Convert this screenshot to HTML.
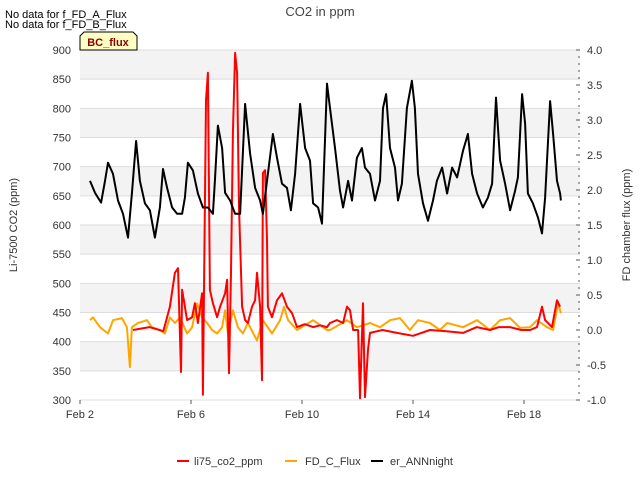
<!DOCTYPE html>
<html><head><meta charset="utf-8"><style>
body{margin:0;background:#fff;}
svg{font-family:"Liberation Sans","DejaVu Sans",sans-serif;}
</style></head><body>
<svg id="c" width="640" height="480" viewBox="0 0 640 480" xmlns="http://www.w3.org/2000/svg">
<text x="5" y="18" font-size="11" fill="#000">No data for f_FD_A_Flux</text>
<text x="5" y="28" font-size="11" fill="#000">No data for f_FD_B_Flux</text>
<text x="320" y="16" font-size="13" fill="#444" text-anchor="middle">CO2 in ppm</text>
<g id="plot"></g>
<path d="M84,32 L133,32 L137,36 L137,50 L80,50 L80,36 Z" fill="#ffffc4" stroke="#000" stroke-width="1"/>
<text x="108" y="46" font-size="11" font-weight="bold" fill="#8b0000" text-anchor="middle">BC_flux</text>
<text transform="translate(17,225) rotate(-90)" font-size="11" fill="#333" text-anchor="middle">Li-7500 CO2 (ppm)</text>
<text transform="translate(630,225) rotate(-90)" font-size="11" fill="#333" text-anchor="middle">FD chamber flux (ppm)</text>
<g>
<line x1="177" y1="461" x2="189" y2="461" stroke="#f00" stroke-width="2"/>
<text x="194" y="465" font-size="11" fill="#333">li75_co2_ppm</text>
<line x1="285" y1="461" x2="297" y2="461" stroke="orange" stroke-width="2"/>
<text x="305" y="465" font-size="11" fill="#333">FD_C_Flux</text>
<line x1="371" y1="461" x2="383" y2="461" stroke="#000" stroke-width="2"/>
<text x="390" y="465" font-size="11" fill="#333">er_ANNnight</text>
</g>
</svg>
<script>
const xTicks=[2,6,10,14,18];
const xTickLabels=["Feb 2","Feb 6","Feb 10","Feb 14","Feb 18"];
const leftTicks=[300,350,400,450,500,550,600,650,700,750,800,850,900];
const rightTicks=[-1.0,-0.5,0.0,0.5,1.0,1.5,2.0,2.5,3.0,3.5,4.0];
const blackT=[2.36,2.54,2.76,2.90,3.01,3.19,3.37,3.55,3.73,3.87,4.02,4.16,4.34,4.52,4.70,4.88,4.99,5.14,5.32,5.50,5.68,5.78,5.89,6.07,6.25,6.43,6.61,6.79,6.86,6.97,7.12,7.23,7.41,7.59,7.77,7.95,8.13,8.31,8.49,8.59,8.77,8.95,9.10,9.28,9.46,9.60,9.75,9.93,10.11,10.29,10.40,10.58,10.72,10.90,11.01,11.19,11.37,11.48,11.66,11.80,11.98,12.16,12.27,12.45,12.63,12.81,12.92,13.03,13.17,13.35,13.46,13.60,13.78,13.96,14.07,14.18,14.36,14.54,14.72,14.86,15.05,15.23,15.41,15.59,15.80,15.98,16.13,16.31,16.52,16.70,16.85,16.99,17.14,17.32,17.50,17.68,17.78,17.93,18.04,18.14,18.32,18.50,18.65,18.76,18.94,19.05,19.19,19.30,19.33];
const blackV=[2.13,1.96,1.82,2.13,2.39,2.23,1.85,1.66,1.32,1.95,2.70,2.13,1.81,1.71,1.32,1.75,2.30,2.03,1.75,1.66,1.66,1.89,2.39,2.28,1.95,1.75,1.75,1.66,2.13,2.92,2.60,1.96,1.85,1.66,1.66,3.23,2.52,2.03,1.85,1.66,2.23,2.80,2.46,2.09,2.03,1.71,2.23,3.23,2.60,2.42,1.81,1.75,1.52,3.52,3.17,2.60,1.99,1.75,2.13,1.85,2.46,2.60,2.32,2.23,1.85,2.13,3.17,3.37,2.60,2.32,1.85,2.09,3.17,3.56,3.17,2.23,1.81,1.56,1.85,2.13,2.32,1.95,2.32,2.18,2.56,2.80,2.23,1.95,1.75,1.89,2.09,3.32,2.42,2.09,1.71,1.99,2.18,3.37,2.95,1.95,1.81,1.61,1.38,1.89,3.27,2.80,2.13,1.95,1.85];
const redT=[3.91,4.5,5.0,5.24,5.42,5.53,5.64,5.68,5.86,6.04,6.14,6.25,6.40,6.43,6.54,6.61,6.68,6.79,6.94,7.05,7.23,7.30,7.37,7.44,7.51,7.59,7.66,7.73,7.84,7.95,8.05,8.20,8.31,8.38,8.49,8.56,8.59,8.67,8.74,8.77,8.92,9.10,9.28,9.46,9.64,9.82,10.1,10.40,10.65,10.90,11.01,11.26,11.48,11.62,11.73,11.84,12.02,12.09,12.20,12.27,12.38,12.45,12.9,13.42,14.0,14.61,15.2,15.80,16.3,16.77,17.1,17.50,17.9,18.22,18.47,18.65,18.76,19.01,19.19,19.30];
const redV=[420,425,418,460,518,526,348,489,437,442,466,432,483,309,814,861,489,466,442,460,483,506,346,518,757,895,861,631,460,437,432,460,471,518,460,334,689,694,574,460,442,471,483,460,449,425,430,425,428,425,432,437,432,460,454,420,420,303,466,305,386,415,420,415,410,420,418,415,425,420,425,425,420,420,425,460,437,425,471,460];
const orangeT=[2.36,2.47,2.72,3.01,3.19,3.51,3.69,3.80,3.87,4.09,4.41,4.59,4.88,5.06,5.24,5.42,5.60,5.86,6.04,6.22,6.40,6.58,6.76,6.94,7.12,7.23,7.33,7.51,7.69,7.87,8.05,8.38,8.59,8.92,9.21,9.35,9.50,9.82,10.40,10.90,11.01,11.62,11.98,12.45,12.81,13.17,13.53,13.89,14.18,14.61,14.97,15.23,15.80,16.31,16.77,17.14,17.50,17.86,18.22,18.47,18.83,19.05,19.23,19.33];
const orangeV=[0.14,0.18,0.04,-0.05,0.14,0.17,0.04,-0.53,0.04,0.10,0.14,0.04,0.0,-0.05,0.18,0.10,0.18,-0.05,0.04,0.38,0.18,0.10,0.0,-0.05,0.04,0.28,-0.05,0.28,0.04,-0.05,0.10,-0.15,0.14,-0.05,0.14,0.33,0.14,0.0,0.14,0.0,0.0,0.14,0.04,0.10,0.04,0.14,0.17,0.0,0.14,0.10,0.0,0.10,0.04,0.14,0.0,0.14,0.17,0.03,0.04,0.14,0.04,0.0,0.38,0.24];

const L=80,R=580,T=50,B=400;
const X=d=>L+(d-2)*27.75;
const YL=v=>T+(900-v)*(B-T)/600;
const YR=v=>B-(v+1)*(B-T)/5;
const NS="http://www.w3.org/2000/svg";
const g=document.getElementById('plot');
function mk(tag,attrs){const e=document.createElementNS(NS,tag);for(const k in attrs)e.setAttribute(k,attrs[k]);g.appendChild(e);return e;}
for(let i=0;i<leftTicks.length-1;i++){
  const v=leftTicks[i];
  if((v-350)%100===0){
    const r=mk('rect',{x:L,y:YL(v+50),width:R-L,height:YL(v)-YL(v+50),fill:'#f3f3f3'});
    
    
  }
}
leftTicks.forEach(v=>{
  const l=mk('line',{x1:L,x2:R,y1:YL(v),y2:YL(v),stroke:'#ddd','stroke-width':1});
  
  
  const t=mk('text',{x:L-9,y:YL(v)+4,'font-size':11,fill:'#333','text-anchor':'end'});
  t.textContent=v;
  
  
});
rightTicks.forEach(v=>{
  const t=mk('text',{x:R+7,y:YR(v)+4,'font-size':11,fill:'#333'});
  t.textContent=v.toFixed(1);
  
  
  mk('line',{x1:R-4,x2:R,y1:YR(v),y2:YR(v),stroke:'#555'});
});
for(let v=-1;v<=4.001;v+=0.1){mk('line',{x1:R-2,x2:R,y1:YR(v),y2:YR(v),stroke:'#555'});}
xTicks.forEach((d,i)=>{
  mk('line',{x1:X(d),x2:X(d),y1:B,y2:B+4,stroke:'#555'});
  const t=mk('text',{x:X(d),y:B+18,'font-size':11,fill:'#333','text-anchor':'middle'});
  t.textContent=xTickLabels[i];
  
  
});
function line(ts,vs,yf,color,name){
  const p=mk('polyline',{points:ts.map((t,i)=>X(t).toFixed(1)+','+yf(vs[i]).toFixed(1)).join(' '),fill:'none',stroke:color,'stroke-width':2,'stroke-linejoin':'round'});
  
  
}
line(orangeT,orangeV,YR,'orange','fd-c-flux-line');
line(redT,redV,YL,'#f00','li75-co2-line');
line(blackT,blackV,YR,'#000','er-annnight-line');
</script>
</body></html>
